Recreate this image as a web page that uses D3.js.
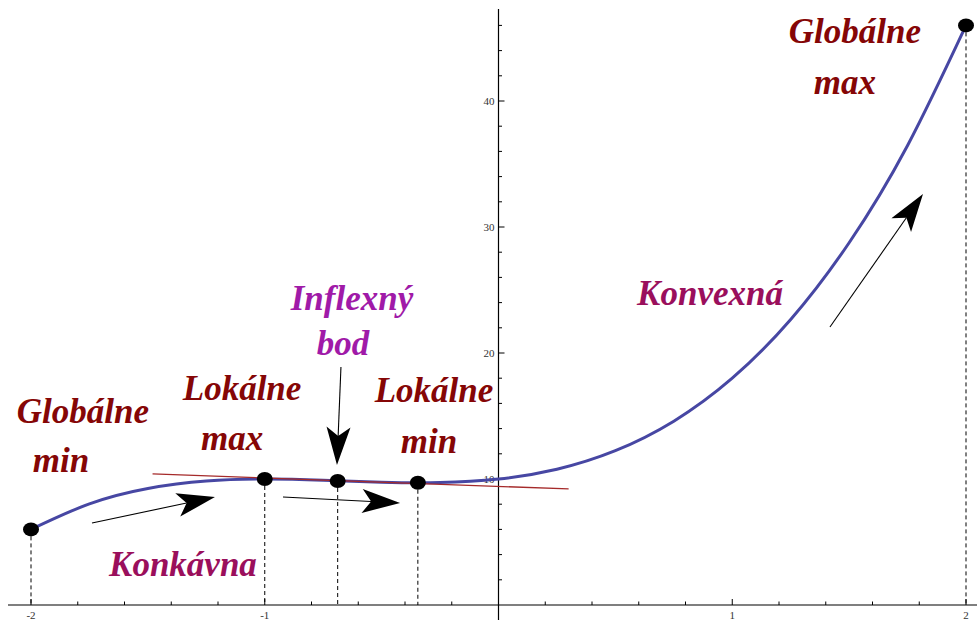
<!DOCTYPE html>
<html>
<head>
<meta charset="utf-8">
<script src="https://cdn.jsdelivr.net/npm/d3@7"></script>
<style>
  body { margin: 0; background: #fff; }
  .lbl { font-family: "Liberation Serif", "DejaVu Serif", serif; font-weight: bold; font-style: italic; }
  .tick-lbl { font-family: "Liberation Serif", serif; font-size: 11px; fill: #333; }
</style>
</head>
<body>
<div id="chart"></div>
<script>
// curve values
const xs = [-2, -1.75, -1.5, -1.25, -1, -0.75, -0.5, -0.25, 0, 0.25, 0.5, 0.75, 1, 1.25, 1.5, 1.75, 2];
const ys = [6, 8.03, 9.25, 9.84, 10, 9.91, 9.75, 9.72, 10, 10.78, 12.25, 14.59, 18, 22.66, 28.75, 36.47, 46];

// marked points: global min, local max, inflection, local min, global max
const dotX = [-2, -1, -0.688, -0.345, 2];
const dotY = [6, 10, 9.84, 9.70, 46];

// tangent at the inflection point
const tanX = [-1.48, 0.3];
const tanY = [10.4, 9.21];

const xTicks = [-2, -1, 1, 2];
const yTicks = [10, 20, 30, 40];

const width = 977, height = 622;

const x = d3.scaleLinear().domain([-2, 2]).range([31, 966]);
const y = d3.scaleLinear().domain([0, 10]).range([605, 479]);

const svg = d3.select("#chart")
    .append("svg")
    .attr("width", width)
    .attr("height", height);

// axes
svg.append("line")
    .attr("x1", 8).attr("x2", width)
    .attr("y1", y(0)).attr("y2", y(0))
    .attr("stroke", "#000").attr("stroke-width", 1.2);
svg.append("line")
    .attr("x1", x(0)).attr("x2", x(0))
    .attr("y1", y(47.3)).attr("y2", 620)
    .attr("stroke", "#000").attr("stroke-width", 1.2);

const xMinor = d3.range(-2, 2.001, 0.2).map(v => +v.toFixed(1));
svg.selectAll(".xt")
    .data(xMinor)
    .enter().append("line")
    .attr("x1", d => x(d)).attr("x2", d => x(d))
    .attr("y1", y(0))
    .attr("y2", d => y(0) - (Math.abs(d % 1) < 1e-6 ? 6 : 3.5))
    .attr("stroke", "#000");

svg.selectAll(".xl")
    .data(xTicks)
    .enter().append("text")
    .attr("class", "tick-lbl")
    .attr("x", d => x(d))
    .attr("y", y(0) + 14)
    .attr("text-anchor", "middle")
    .text(d => d);

const yMinor = d3.range(2, 47, 2);
svg.selectAll(".yt")
    .data(yMinor)
    .enter().append("line")
    .attr("x1", x(0))
    .attr("x2", d => x(0) + (d % 10 === 0 ? 6 : 3.5))
    .attr("y1", d => y(d)).attr("y2", d => y(d))
    .attr("stroke", "#000");

svg.selectAll(".yl")
    .data(yTicks)
    .enter().append("text")
    .attr("class", "tick-lbl")
    .attr("x", x(0) - 4)
    .attr("y", d => y(d) + 3.5)
    .attr("text-anchor", "end")
    .text(d => d);

// dashed drop lines
svg.selectAll(".drop")
    .data(dotX)
    .enter().append("line")
    .attr("x1", d => x(d)).attr("x2", d => x(d))
    .attr("y1", (d, i) => y(dotY[i]))
    .attr("y2", y(0))
    .attr("stroke", "#000")
    .attr("stroke-width", 1)
    .attr("stroke-dasharray", "4,3");

// curve
const pts = xs.map((v, i) => [v, ys[i]]);
svg.append("path")
    .datum(pts)
    .attr("fill", "none")
    .attr("stroke", "#4747a3")
    .attr("stroke-width", 3)
    .attr("d", d3.line().x(d => x(d[0])).y(d => y(d[1])).curve(d3.curveNatural));

// tangent
svg.append("line")
    .attr("x1", x(tanX[0])).attr("y1", y(tanY[0]))
    .attr("x2", x(tanX[1])).attr("y2", y(tanY[1]))
    .attr("stroke", "#a52a2a")
    .attr("stroke-width", 1.3);

// dots
svg.selectAll(".dot")
    .data(dotX)
    .enter().append("ellipse")
    .attr("cx", d => x(d))
    .attr("cy", (d, i) => y(dotY[i]))
    .attr("rx", 8).attr("ry", 7)
    .attr("fill", "#000");

// arrows [x0, y0, x1, y1] in data units
const arrows = [
    [-1.739, 6.51, -1.213, 8.57],
    [-0.922, 8.57, -0.421, 8.10],
    [-0.674, 18.89, -0.691, 11.11],
    [1.418, 22.06, 1.816, 32.62]
];
arrows.forEach(function (a) {
    const x0 = x(a[0]), y0 = y(a[1]), x1 = x(a[2]), y1 = y(a[3]);
    const ang = Math.atan2(y1 - y0, x1 - x0);
    const L = 38, W = 12, N = 29;
    const ux = Math.cos(ang), uy = Math.sin(ang);
    const bx = x1 - ux * L, by = y1 - uy * L;
    const nx = x1 - ux * N, ny = y1 - uy * N;
    svg.append("line")
        .attr("x1", x0).attr("y1", y0)
        .attr("x2", nx).attr("y2", ny)
        .attr("stroke", "#000").attr("stroke-width", 1.1);
    svg.append("path")
        .attr("d", "M" + x1 + "," + y1 +
            "L" + (bx - uy * W) + "," + (by + ux * W) +
            "L" + nx + "," + ny +
            "L" + (bx + uy * W) + "," + (by - ux * W) + "Z")
        .attr("fill", "#000");
});

// labels
const labels = [
    ["Globálne", -1.778, 14.44, "#850606"],
    ["min", -1.872, 10.56, "#850606"],
    ["Lokálne", -1.097, 16.27, "#850606"],
    ["max", -1.14, 12.3, "#850606"],
    ["Inflexný", -0.627, 23.4, "#a01aa8"],
    ["bod", -0.665, 19.84, "#a01aa8"],
    ["Lokálne", -0.276, 16.11, "#850606"],
    ["min", -0.297, 12.06, "#850606"],
    ["Konkávna", -1.35, 2.3, "#9a0f5c"],
    ["Konvexná", 0.905, 23.8, "#9a0f5c"],
    ["Globálne", 1.525, 44.6, "#850606"],
    ["max", 1.482, 40.55, "#850606"]
];
svg.selectAll(".lbl")
    .data(labels)
    .enter().append("text")
    .attr("class", "lbl")
    .attr("x", d => x(d[1]))
    .attr("y", d => y(d[2]))
    .attr("text-anchor", "middle")
    .attr("font-size", 35)
    .attr("fill", d => d[3])
    .text(d => d[0]);
</script>
</body>
</html>
